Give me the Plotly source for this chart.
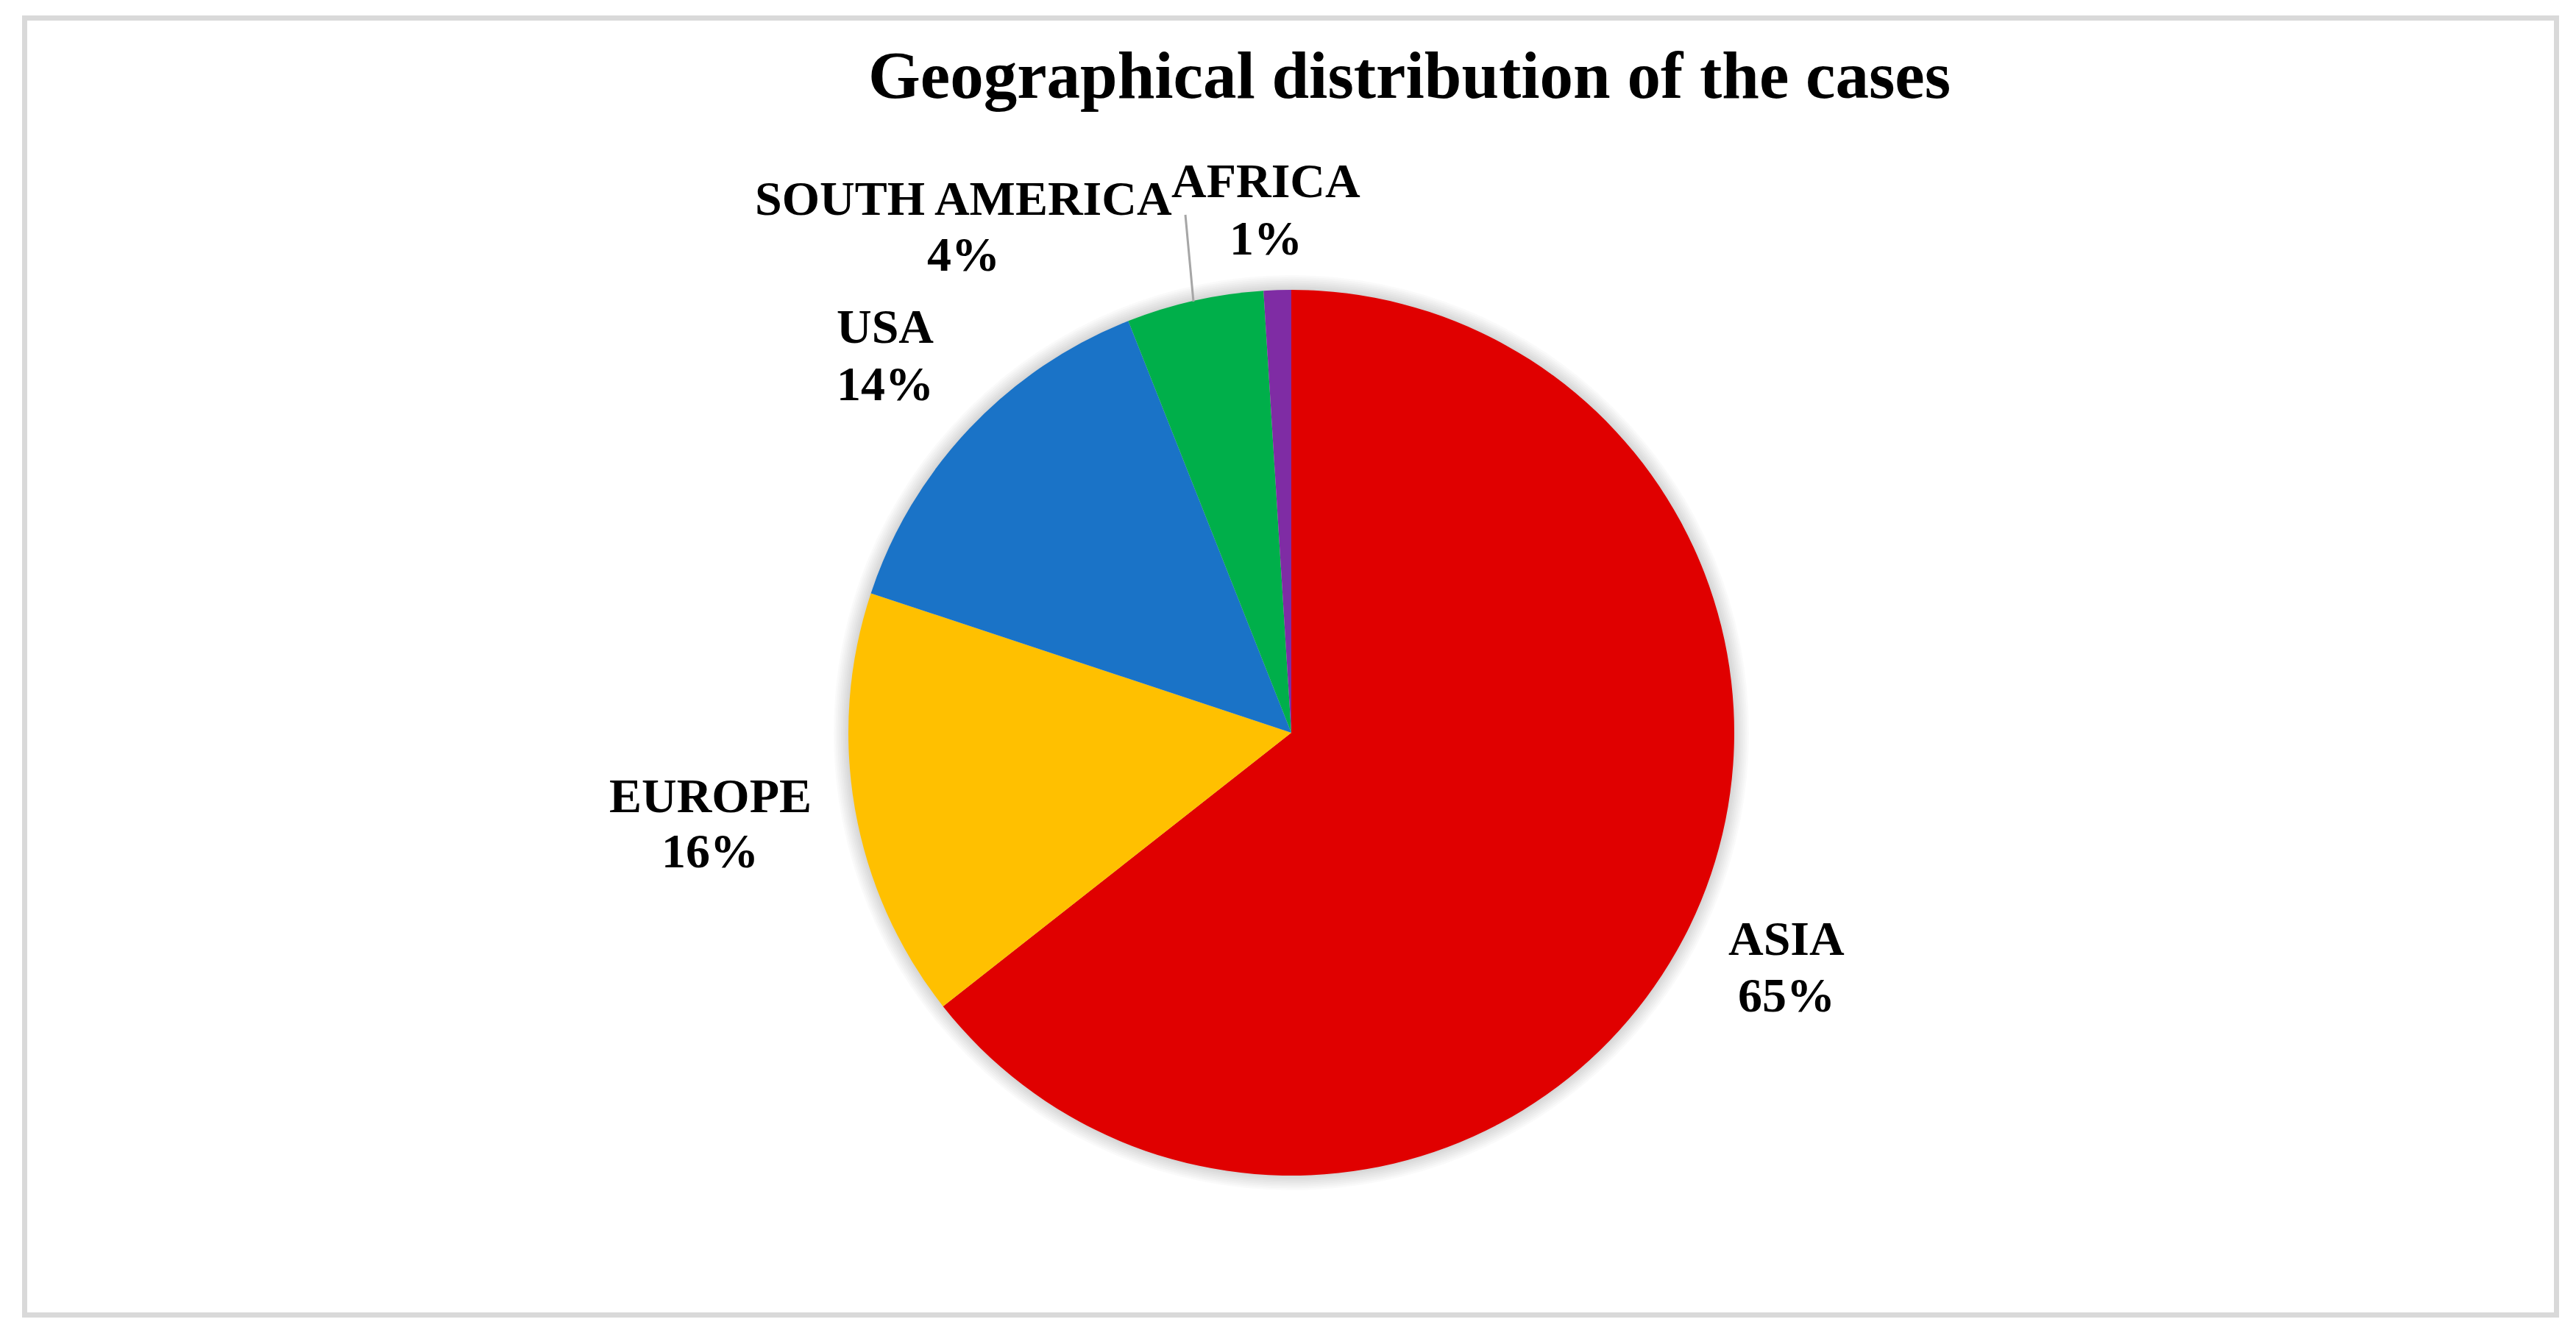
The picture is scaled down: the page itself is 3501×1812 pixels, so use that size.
import plotly.graph_objects as go

# ---- data ----
regions = ["ASIA", "EUROPE", "USA", "SOUTH AMERICA", "AFRICA"]
shares = [64.4, 15.7, 13.9, 5.0, 1.0]
pct_labels = ["65%", "16%", "14%", "4%", "1%"]
title_text = "Geographical distribution of the cases"

# ---- style / layout ----
W, H = 3501, 1812
colors = ["#E00000", "#FFC000", "#1A73C7", "#00AF4A", "#7F2CA4"]
CX, CY, R = 1755, 996, 602          # pie centre / radius in px
FONT = "Liberation Serif"
LBL_SIZE = 66
TITLE_SIZE = 91
# label text centres (x) and line baselines (px) - Excel-style placement
label_pos = [
    (2428, 1297, 1374),
    (965, 1103, 1178),
    (1203, 465, 543),
    (1309, 291, 367),
    (1720, 267, 345),
]

def px(x):
    return x / W

def py(y):
    return 1 - y / H

fig = go.Figure(
    go.Pie(
        labels=regions,
        values=shares,
        sort=False,
        direction="clockwise",
        rotation=0,
        textinfo="none",
        marker=dict(colors=colors, line=dict(width=0)),
        domain=dict(x=[px(CX - R), px(CX + R)], y=[py(CY + R), py(CY - R)]),
        showlegend=False,
        hovertemplate="%{label}: %{percent}<extra></extra>",
    )
)

shapes = []
# soft shadow around the pie
for i in range(8, 0, -1):
    r = R + 2.5 * i
    shapes.append(dict(type="circle", xref="paper", yref="paper",
                       x0=px(CX - r), x1=px(CX + r), y0=py(CY + r), y1=py(CY - r),
                       fillcolor="rgba(0,0,0,0.018)", line=dict(width=0), layer="below"))
# chart frame
shapes.append(dict(type="rect", xref="paper", yref="paper",
                   x0=px(33.5), x1=px(3474.5), y0=py(1787.5), y1=py(24.5),
                   line=dict(color="#D9D9D9", width=7), fillcolor="rgba(0,0,0,0)", layer="above"))
# leader line for SOUTH AMERICA
shapes.append(dict(type="line", xref="paper", yref="paper",
                   x0=px(1611), y0=py(292), x1=px(1622), y1=py(410),
                   line=dict(color="#A6A6A6", width=3)))

annotations = []
cap_mid = 0.33 * LBL_SIZE
for name, pct, (x, b1, b2) in zip(regions, pct_labels, label_pos):
    for txt, b in ((name, b1), (pct, b2)):
        annotations.append(dict(text=f"<b>{txt}</b>", x=px(x), y=py(b - cap_mid),
                                xref="paper", yref="paper", xanchor="center", yanchor="middle",
                                showarrow=False,
                                font=dict(family=FONT, size=LBL_SIZE, color="#000000")))
# title
annotations.append(dict(text=f"<b>{title_text}</b>", x=px(1915), y=py(133 - 0.33 * TITLE_SIZE),
                        xref="paper", yref="paper", xanchor="center", yanchor="middle",
                        showarrow=False, font=dict(family=FONT, size=TITLE_SIZE, color="#000000")))

fig.update_layout(
    width=W, height=H, autosize=False,
    margin=dict(l=0, r=0, t=0, b=0),
    paper_bgcolor="white", plot_bgcolor="white",
    shapes=shapes, annotations=annotations,
)

fig.write_html("out.html", config={"displayModeBar": False},
               post_script="document.body.style.margin='0px';")
